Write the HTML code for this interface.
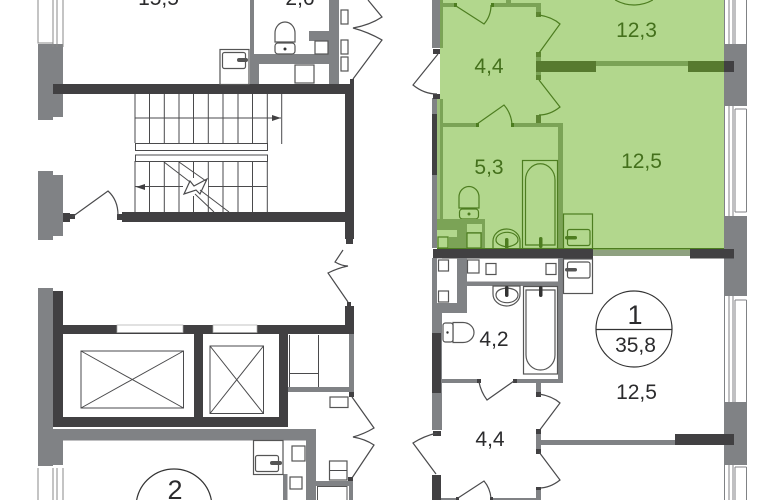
<!DOCTYPE html>
<html><head><meta charset="utf-8"><style>
html,body{margin:0;padding:0;background:#fff;width:770px;height:500px;overflow:hidden}
svg{display:block}
text{font-family:"Liberation Sans",sans-serif;font-size:21px;text-anchor:middle;fill:#2b2b2d}
.g text{fill:#44701c}
.l{fill:none;stroke:#4a4a4c;stroke-width:1}
.m{fill:none;stroke:#4a4a4c;stroke-width:1.2}
.w{fill:#fff;stroke:#555;stroke-width:1.2}
.gl{fill:none;stroke:#4d7d20;stroke-width:1.2}
.gb{fill:#b2d78d;stroke:#4d7d20;stroke-width:1.2}
</style></head><body>
<svg width="770" height="500" viewBox="0 0 770 500" xmlns="http://www.w3.org/2000/svg">
<rect width="770" height="500" fill="#fff"/>

<!-- LEFT TOP WINDOW + WALL -->
<path d="M38 44H63V117H53V120H38Z" fill="#808285"/>
<path d="M38 0V43H53V0M53 0V47M57 0V47M63 0V47" style="stroke:#888;fill:none"/>
<path d="M38 171H53V175H63V236H53V240H38Z" fill="#808285"/>
<rect x="63" y="213" width="7" height="9" fill="#414042"/>
<rect x="70" y="214" width="5" height="5" fill="#414042"/>

<!-- Stair hall walls -->
<rect x="53" y="84" width="301" height="10" fill="#414042"/>
<rect x="345" y="84" width="9" height="155" fill="#414042"/>
<rect x="350" y="79" width="4" height="6" fill="#414042"/>
<rect x="346" y="239" width="7" height="5" fill="#414042"/>
<rect x="122" y="212" width="225" height="10" fill="#414042"/>
<rect x="117" y="214" width="5" height="6" fill="#414042"/>

<!-- Stairs -->
<path class="l" d="M135 94V143M149.500 94V143M164.300 94V143M179 94V143M193.500 94V143M208.300 94V143M223 94V143M238 94V143M252.500 94V143M267.300 94V143M281.700 94V144M135 118H281"/>
<path d="M272 115l9 3l-9 3z" fill="#414042"/>
<rect x="135.500" y="143.500" width="132" height="7" class="l"/>
<rect x="135.500" y="155" width="132" height="6.500" class="l"/>
<path class="l" d="M135 161V212M149.500 161V212M164.300 161V212M179 161V212M193.500 161V212M208.300 161V212M223 161V212M238 161V212M252.500 161V212M267.300 161V212M135 186.500H267"/>
<path d="M145 184l-9 3l9 3z" fill="#414042"/>
<rect x="183" y="178" width="25" height="18" fill="#fff"/>
<path class="l" d="M164 162L190 182M179 162L206 181M195 194L214 212M200 190L229 212"/>
<path class="m" d="M184 194L190 181L194 186L207 179L200 194L196 190Z"/>
<path class="m" d="M72 217L108 191Q118 200 118 215"/>

<!-- Top rooms -->
<rect x="250" y="0" width="4" height="84" fill="#808285"/>
<rect x="250" y="64" width="9" height="20" fill="#808285"/>
<rect x="329" y="0" width="10" height="84" fill="#808285"/>
<rect x="254" y="54" width="75" height="10" fill="#808285"/>
<path d="M309 31H329V54H315V41H309Z" fill="#808285"/>
<rect x="315" y="41" width="13" height="13" class="w"/>
<rect x="295" y="65" width="19" height="18" class="w"/>
<rect x="220" y="49.500" width="29" height="35" class="w"/>
<rect x="222.500" y="52.500" width="23" height="16" rx="2" class="w"/>
<rect x="237" y="58" width="11" height="4" rx="2" fill="#555"/>
<path class="w" d="M275 42V33A10 11 0 0 1 295 33V42Z"/>
<rect x="275" y="43" width="20" height="11" rx="3" class="w"/>
<circle cx="285" cy="49" r="1.500" fill="#333"/>
<rect x="341" y="10" width="7" height="14" class="w"/>
<rect x="341" y="40" width="7" height="14" class="w"/>
<rect x="341" y="57" width="7" height="14" class="w"/>
<path class="m" d="M353 79L382 40Q368 32 353 28Q370 25 382 17L368 0"/>
<text x="158.500" y="5">15,5</text>
<text x="300" y="5">2,6</text>

<!-- Door center -->
<path class="m" d="M343 250L335 262Q342 266 348 266Q338 268 328 273L348 302"/>

<!-- Lift block -->
<rect x="38" y="288" width="15" height="178" fill="#808285"/>
<rect x="53" y="429" width="263" height="11.500" fill="#808285"/>
<rect x="53" y="440" width="10" height="25" fill="#808285"/>
<rect x="53" y="291" width="10" height="136" fill="#414042"/>
<rect x="53" y="325" width="301" height="9" fill="#414042"/>
<rect x="53" y="417" width="235" height="10" fill="#414042"/>
<rect x="194" y="325" width="9" height="100" fill="#414042"/>
<rect x="279" y="325" width="9" height="102" fill="#414042"/>
<rect x="345" y="306" width="9" height="28" fill="#414042"/>
<rect x="347" y="302" width="4" height="5" fill="#414042"/>
<rect x="117" y="325" width="66" height="7.500" fill="#fff" stroke="#aaa" stroke-width=".7"/>
<rect x="213" y="325" width="44" height="7.500" fill="#fff" stroke="#aaa" stroke-width=".7"/>
<rect x="81" y="351" width="102.500" height="57" class="l"/>
<path class="l" d="M81 351L183.500 408M183.500 351L81 408"/>
<rect x="210" y="346" width="53.500" height="67.500" class="l"/>
<path class="l" d="M210 346L263.500 413.500M263.500 346L210 413.500"/>
<rect x="349" y="334" width="5" height="58" fill="#808285"/>
<rect x="288" y="387" width="66" height="5" fill="#808285"/>
<path class="l" d="M289.500 373.500H318M289.500 335V387M318.500 335V387"/>
<rect x="330" y="397" width="18" height="10.500" class="w"/>
<rect x="349" y="392" width="5" height="5" fill="#414042"/>
<path class="m" d="M352 397L374 428Q364 434 353 437Q365 439 374 445L352 478"/>

<!-- Lower left rooms -->
<path d="M38 468V500M53 468V500M57 468V500M63 468V500" style="stroke:#888;fill:none"/>
<rect x="306" y="429" width="10" height="71" fill="#808285"/>
<rect x="283" y="474" width="4.500" height="26" fill="#808285"/>
<rect x="316" y="481" width="37" height="5" fill="#808285"/>
<rect x="349" y="481" width="4" height="19" fill="#808285"/>
<path d="M317.500 500V486.500H347V500" fill="#fff" stroke="#555"/>
<rect x="253.500" y="440.500" width="29.500" height="34" class="w"/>
<rect x="255.500" y="455.500" width="23" height="16" rx="2" class="w"/>
<rect x="270" y="461" width="12" height="4" rx="2" fill="#555"/>
<rect x="292" y="446" width="13" height="15" class="w"/>
<rect x="290" y="477" width="12" height="12" class="w"/>
<rect x="329.500" y="461" width="17.500" height="19" class="w"/>
<path class="l" d="M330 470.500H347"/>
<rect x="348" y="477" width="5" height="4" fill="#414042"/>
<path d="M136.650 500A38 38 0 0 1 211.350 500" fill="none" stroke="#333" stroke-width="1.200"/>
<text x="175" y="499" style="font-size:27px">2</text>

<!-- RIGHT WINDOWS -->
<g>
<rect x="724" y="44" width="23" height="62" fill="#808285"/>
<rect x="724" y="216" width="23" height="80" fill="#808285"/>
<rect x="724" y="402" width="23" height="63" fill="#808285"/>
<path d="M724.500 0V44M729 0V44M733 0V44M735 0V44M746.500 0V44M724.500 106V216M729 106V216M733 106V216M735 109V212M746.500 109V212M735 109H746.500M735 212H746.500M724.500 296V403M729 296V403M733 296V403M735 300V404M746.500 300V404M735 300H746.500M724.500 465V500M729 465V500M733 465V500M735 467V500M746.500 467V500M735 467H746.500" fill="none" stroke="#808285" stroke-width="1"/>
</g>

<!-- Left wall right block -->
<rect x="432" y="0" width="10" height="48" fill="#808285"/>
<rect x="432" y="98" width="10" height="150" fill="#808285"/>
<rect x="432" y="114" width="7" height="61" fill="#414042"/>
<rect x="433" y="49" width="8" height="5" fill="#414042"/>
<rect x="433" y="94" width="8" height="5" fill="#414042"/>
<path class="m" d="M438 54L413 85Q424 94 437 94"/>

<!-- GREEN area background -->
<rect x="440" y="0" width="284" height="250" fill="#b2d78d"/>
<rect x="437" y="99" width="3" height="150" fill="#9dbf7c"/>
<rect x="724" y="61" width="10" height="11" fill="#414042"/>
<g class="g">
<rect x="440" y="0" width="3" height="48" fill="#7ba356"/>
<rect x="440" y="99" width="3" height="150" fill="#7ba356"/>
<rect x="443" y="3" width="13" height="4" fill="#7ba356"/>
<rect x="492" y="3" width="49" height="4" fill="#7ba356"/>
<rect x="506" y="0" width="5" height="4" fill="#7ba356"/>
<rect x="536" y="7" width="5" height="7" fill="#7ba356"/>
<rect x="536" y="12" width="5" height="5" fill="#5d8532"/>
<rect x="536" y="52" width="5" height="5" fill="#5d8532"/>
<rect x="536" y="57" width="5" height="18" fill="#7ba356"/>
<rect x="536" y="75" width="5" height="5" fill="#5d8532"/>
<rect x="536" y="115" width="5" height="8" fill="#5d8532"/>
<rect x="536" y="61" width="60" height="11" fill="#577a2f"/>
<rect x="596" y="61" width="92" height="5" fill="#7ba356"/>
<rect x="688" y="61" width="36" height="11" fill="#577a2f"/>
<rect x="443" y="123" width="33" height="4" fill="#7ba356"/>
<rect x="514" y="123" width="49" height="4" fill="#7ba356"/>
<rect x="558" y="123" width="5" height="127" fill="#7ba356"/>
<rect x="476" y="123" width="3" height="4" fill="#4d7d20"/>
<rect x="511" y="123" width="3" height="4" fill="#4d7d20"/>
<rect x="454" y="3" width="3" height="4" fill="#4d7d20"/>
<rect x="491" y="3" width="3" height="4" fill="#4d7d20"/>
<path class="gl" d="M456 6L484 24Q491 16 491 5"/>
<path class="gl" d="M539 15Q552 17 560 24L539 53"/>
<path class="gl" d="M539 80L560 107Q550 115 539 115"/>
<path class="gl" d="M477 124L504 105Q511 113 512 124"/>
<!-- bath -->
<rect x="522.500" y="160.500" width="35" height="88" class="gl"/>
<path class="gl" d="M525.500 245V180A14.500 16 0 0 1 555 180V245Z"/>
<rect x="539" y="237" width="3.500" height="11" rx="1.700" fill="#4d7d20"/>
<!-- sink box -->
<rect x="563.500" y="214" width="29" height="35" class="gl"/>
<rect x="567.500" y="229.500" width="22.500" height="16" rx="2" class="gl"/>
<rect x="565" y="236" width="12" height="3.500" rx="1.700" fill="#4d7d20"/>
<!-- toilet -->
<path class="gl" d="M459 208V197A10 10.500 0 0 1 479 197V208Z"/>
<rect x="459.500" y="209" width="19" height="10" rx="3" class="gl"/>
<circle cx="469" cy="214" r="1.500" fill="#4d7d20"/>
<!-- washbasin -->
<path class="gl" d="M493 249V241A13.500 12 0 0 1 520 241V249Z"/>
<path class="gl" d="M496 240A10 7 0 0 1 518 240Q518 245 507 247Q496 245 496 240Z"/>
<rect x="505" y="238" width="3.500" height="11" rx="1.700" fill="#4d7d20"/>
<!-- service block -->
<rect x="437" y="219" width="48" height="30" fill="#7ba356"/>
<rect x="437" y="230" width="20" height="7" fill="#b2d78d"/>
<rect x="437" y="237" width="12" height="12" fill="#b2d78d"/>
<rect x="438" y="237" width="10" height="11" class="gb"/>
<rect x="467" y="224" width="15" height="8" fill="#b2d78d"/>
<rect x="467" y="233" width="14" height="15" class="gb"/>
<rect x="437" y="248" width="287" height="1.500" fill="#4d7d20"/>
<text x="489" y="73">4,4</text>
<text x="489" y="174">5,3</text>
<text x="636.500" y="37">12,3</text>
<text x="641.500" y="168">12,5</text>
<path class="gl" d="M615.200 0A38 38 0 0 0 652.800 0"/>
</g>

<!-- Middle dark band -->
<rect x="433" y="249" width="160" height="9.500" fill="#414042"/>
<rect x="593" y="250" width="97" height="6" fill="#8fa180"/>
<rect x="690" y="249" width="44" height="9.500" fill="#414042"/>

<!-- Lower apartment -->
<rect x="432" y="258" width="10" height="172" fill="#808285"/>
<rect x="432" y="303" width="35" height="10" fill="#808285"/>
<rect x="457" y="258" width="10" height="55" fill="#808285"/>
<rect x="437" y="258.500" width="20" height="44.500" fill="#fff"/>
<rect x="432" y="333" width="9" height="60" fill="#414042"/>
<rect x="467" y="281.500" width="96" height="4.500" fill="#808285"/>
<rect x="558" y="258" width="5" height="125" fill="#808285"/>
<rect x="442" y="379" width="35" height="4" fill="#808285"/>
<rect x="515" y="379" width="48" height="4" fill="#808285"/>
<rect x="477" y="379" width="4" height="4" fill="#414042"/>
<rect x="513" y="379" width="4" height="4" fill="#414042"/>
<rect x="438.500" y="260" width="10" height="11" class="w"/>
<rect x="438.500" y="291" width="10" height="11" class="w"/>
<rect x="467.500" y="260" width="11.500" height="13" class="w"/>
<rect x="486" y="263.500" width="10" height="11" class="w"/>
<rect x="546" y="263.500" width="10" height="11" class="w"/>
<rect x="563.500" y="259" width="29" height="34.500" class="w"/>
<rect x="567.500" y="262" width="22.500" height="16" rx="2" class="w"/>
<rect x="565" y="268" width="12" height="3.500" rx="1.700" fill="#555"/>
<path class="w" d="M493 286H520V294A13.500 12 0 0 1 493 294Z"/>
<path class="w" d="M496 295A10 7 0 0 0 518 295Q518 289 507 288Q496 289 496 295Z"/>
<rect x="505" y="286" width="3.500" height="11" rx="1.700" fill="#333"/>
<rect x="523.500" y="286.500" width="34" height="87.500" class="w"/>
<path class="w" d="M526 290H555V355A14.500 15 0 0 1 526 355Z"/>
<rect x="539" y="286" width="3.500" height="11" rx="1.700" fill="#333"/>
<path class="w" d="M453 322.500H463A11 10 0 0 1 463 342.500H453Z"/>
<rect x="443" y="323" width="10" height="19" rx="2.500" class="w"/>
<circle cx="447.500" cy="332.500" r="1.200" fill="#333"/>
<text x="494" y="346">4,2</text>
<rect x="536" y="383" width="5" height="11" fill="#808285"/>
<rect x="536" y="392" width="5" height="5" fill="#414042"/>
<path class="m" d="M539 394Q552 396 560 403L539 431"/>
<rect x="536" y="429" width="5" height="5" fill="#414042"/>
<rect x="536" y="434" width="5" height="16" fill="#808285"/>
<rect x="536" y="449" width="5" height="5" fill="#414042"/>
<rect x="541" y="440" width="134" height="5" fill="#808285"/>
<rect x="675" y="434" width="59" height="11" fill="#414042"/>
<path class="m" d="M539 452L560 480Q550 488 539 488"/>
<rect x="536" y="487" width="5" height="5" fill="#414042"/>
<rect x="536" y="490" width="5" height="10" fill="#808285"/>
<path class="m" d="M479 382Q481 392 487 400L514 381"/>
<rect x="433" y="431" width="8" height="5" fill="#414042"/>
<path class="m" d="M437 433Q424 436 413 443L436 474"/>
<rect x="432" y="475" width="9" height="25" fill="#414042"/>
<rect x="441" y="498" width="16" height="2" fill="#808285"/>
<rect x="492" y="498" width="44" height="2" fill="#808285"/>
<rect x="456" y="497" width="3" height="3" fill="#414042"/>
<rect x="490" y="497" width="3" height="3" fill="#414042"/>
<path class="m" d="M458 498L484 481Q490 488 491 498"/>
<text x="490" y="446">4,4</text>
<circle cx="634" cy="329" r="38" fill="none" stroke="#333" stroke-width="1.200"/>
<path d="M596 329.500H672" stroke="#333" stroke-width="1.200"/>
<text x="635" y="324" style="font-size:27px">1</text>
<text x="635.500" y="352">35,8</text>
<text x="636.500" y="399">12,5</text>
</svg>
</body></html>
